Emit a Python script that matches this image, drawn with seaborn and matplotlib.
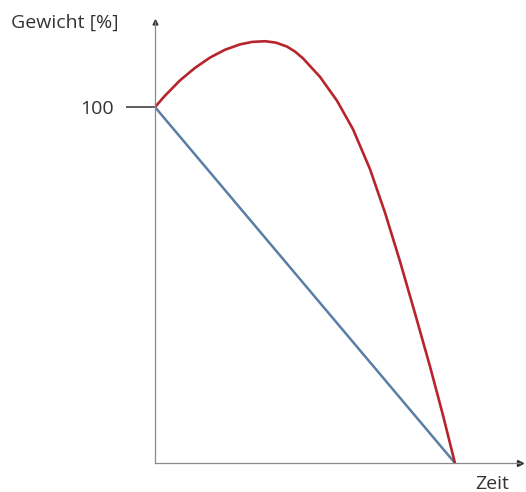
import matplotlib
matplotlib.use("Agg")
import matplotlib.pyplot as plt
import seaborn as sns
import pandas as pd

# Data
red_x = [0.0, 0.333, 0.833, 1.333, 1.833, 2.333, 2.833, 3.233, 3.667, 4.033, 4.4, 4.667, 4.933,
         5.5, 6.067, 6.6, 7.167, 7.667, 8.167, 8.667, 9.167, 9.6, 10.0]
red_y = [100.0, 103.2, 107.5, 111.0, 113.9, 116.1, 117.6, 118.3, 118.5, 118.1, 117.0, 115.6, 113.7,
         108.5, 101.8, 93.8, 82.6, 70.4, 56.7, 42.1, 27.2, 13.5, 0.0]
blue_x = [0.0, 10.0]
blue_y = [100.0, 0.0]
y_ticks = [100]
y_label = "Gewicht [%]"
x_label = "Zeit"

sns.set_theme(style="white")
plt.rcParams['font.family'] = ['Open Sans', 'DejaVu Sans']

fig = plt.figure(figsize=(5.26, 4.92), dpi=100)
ax = fig.add_axes([155/526, 29/492, 365/526, 441/492])

df_red = pd.DataFrame({"x": red_x, "y": red_y})
df_blue = pd.DataFrame({"x": blue_x, "y": blue_y})
sns.lineplot(data=df_blue, x="x", y="y", ax=ax, color="#5a7ea6", linewidth=1.8, sort=False)
sns.lineplot(data=df_red, x="x", y="y", ax=ax, color="#b5252b", linewidth=1.9, sort=False)
for ln in ax.lines:
    ln.set_solid_joinstyle("round")
    ln.set_solid_capstyle("round")

ax.set_xlim(0, 12.17)
ax.set_ylim(0, 123.9)
ax.set_xlabel("")
ax.set_ylabel("")

for s in ["top", "right"]:
    ax.spines[s].set_visible(False)
for s in ["left", "bottom"]:
    ax.spines[s].set_color("#8a8a8a")
    ax.spines[s].set_linewidth(0.9)

ax.set_xticks([])
ax.set_yticks(y_ticks)
ax.set_yticklabels([str(t) for t in y_ticks], fontsize=14, color="#333333")
ax.tick_params(axis="y", length=21, width=1.1, color="#333333", pad=9, left=True)

# axis arrowheads
ax.plot([0], [1], marker="^", markersize=3.5, color="#333333", transform=ax.transAxes, clip_on=False)
ax.plot([1], [0], marker=">", markersize=4.5, color="#333333", transform=ax.transAxes, clip_on=False)

fig.text(11/526, 1 - 23/492, y_label, fontsize=14, color="#333333", ha="left", va="center")
fig.text(475/526, 1 - 484/492, x_label, fontsize=14, color="#333333", ha="left", va="center")

fig.savefig("out.png", dpi=100)
